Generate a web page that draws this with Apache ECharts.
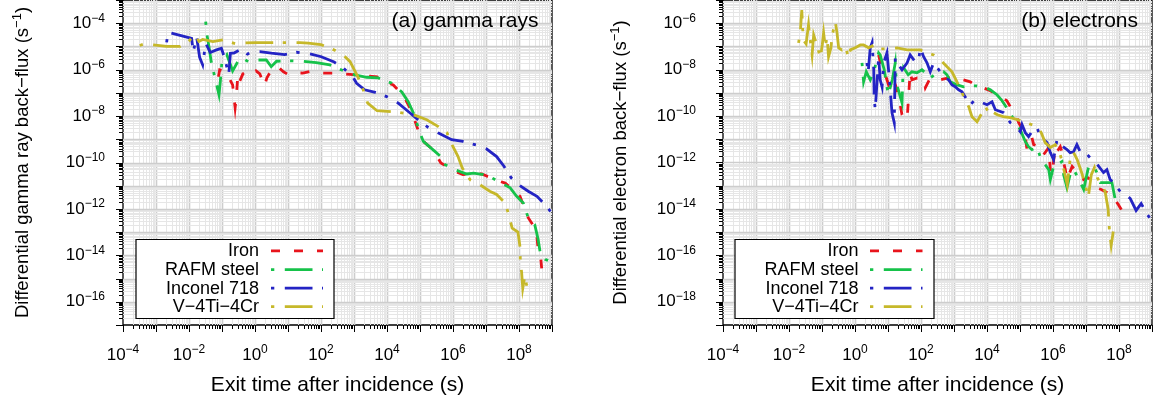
<!DOCTYPE html>
<html><head><meta charset="utf-8">
<script src="https://cdn.jsdelivr.net/npm/echarts@6/dist/echarts.min.js"></script>
<style>html,body{margin:0;padding:0;background:#fff}#c{width:1153px;height:403px}</style>
</head><body><div id="c"></div>
<script>
const FONT = '"Liberation Sans", Arial, Helvetica, sans-serif';
const seriesNames = ['Iron', 'RAFM steel', 'Inconel 718', 'V\u22124Ti\u22124Cr'];
const seriesColors = ['#e8141c', '#16c24a', '#2424c4', '#c6b82a'];
const seriesDash = [[9, 14], [3.3, 10.5, 27.7, 9.5], [3.3, 10.5, 27.7, 9.5], [3.3, 10.5, 27.7, 9.5]];
const panelTitles = ['(a) gamma rays', '(b) electrons'];
const yAxisTitles = ['Differential gamma ray back\u2212flux (s', 'Differential electron back\u2212flux (s'];
const xAxisTitle = 'Exit time after incidence (s)';
const xRange = [1e-4, 1e9];
const gammaYRange = [1e-17, 1e-3];
const electronYRange = [1e-19, 1e-5];
const xTickValues = [1e-4, 1e-2, 1e0, 1e2, 1e4, 1e6, 1e8];
const gammaYTickValues = [1e-16, 1e-14, 1e-12, 1e-10, 1e-8, 1e-6, 1e-4];
const electronYTickValues = [1e-18, 1e-16, 1e-14, 1e-12, 1e-10, 1e-8, 1e-6];

// ---- (a) gamma rays: [exit time (s), back-flux (1/s)]
const gammaIron = [[7.8e-2,4.9e-7],[8.5e-2,9.8e-7],[0.13,8.1e-7],[0.21,2.2e-7],[0.25,2.3e-8],[0.27,6.2e-8],[0.30,4.9e-7],[0.32,2.5e-7],[0.43,6.6e-7],[0.68,9.8e-7],[0.9,7.3e-7],[1.07,8.9e-7],[1.4,6.6e-7],[1.95,2e-7],[2.3,4.5e-7],[2.7,6.6e-7],[3.3,9.8e-7],[4.7,1.4e-6],[7.3,8.1e-7],[10.4,6e-7],[17,7.3e-7],[28,7.1e-7],[47,8.3e-7],[81,7.3e-7],[130,7.1e-7],[230,7.1e-7],[760,6.3e-7],[2.4e3,5.4e-7],[5e3,4.9e-7],[6.2e3,3.6e-7],[1.55e4,2.2e-7],[3.1e4,7.9e-8],[5e4,2.2e-8],[7.1e4,5.9e-9],[8.9e4,2.3e-9],[1.26e5,8.1e-10],[2.5e5,3.5e-10],[4.3e5,9.6e-11],[5.8e5,7.4e-11],[1.15e6,4.2e-11],[2e6,3e-11],[4.2e6,3.4e-11],[7.4e6,3.2e-11],[1.05e7,2.6e-11],[2.6e7,1.55e-11],[3.8e7,1.3e-11],[8.5e7,4.9e-12],[1.07e8,3.5e-12],[1.9e8,4.2e-13],[3e8,1.55e-13],[3.4e8,9.3e-14],[3.8e8,1.8e-14],[4.4e8,1.3e-14],[4.9e8,2.5e-15],[6.6e8,3.5e-15]];
const gammaRafm = [[3.2e-2,1.17e-4],[3.5e-2,3.2e-5],[4.1e-2,8.3e-6],[4.7e-2,2.2e-6],[8.1e-2,8.3e-8],[8.9e-2,3.1e-7],[0.1,2.4e-6],[0.14,4.4e-6],[0.21,8.9e-7],[0.30,2.2e-6],[0.43,3.1e-6],[0.62,2.2e-6],[1.07,2.6e-6],[2.2,2.6e-6],[3.1,1.35e-6],[4.5,2.3e-6],[8.1,2.4e-6],[13,2.4e-6],[28,2.3e-6],[72,2.0e-6],[186,1.6e-6],[480,8.9e-7],[1.07e3,6e-7],[2.4e3,4.7e-7],[5.4e3,4.4e-7],[1.4e4,2.6e-7],[2.8e4,1.1e-7],[4.4e4,4.2e-8],[6.3e4,1.35e-8],[8.3e4,4.3e-9],[9.6e4,2.2e-9],[1.26e5,8.1e-10],[2.5e5,3.5e-10],[4.1e5,1.9e-10],[5.8e5,8.1e-11],[1.15e6,4.9e-11],[2.6e6,3.2e-11],[4.2e6,3.5e-11],[8.3e6,3e-11],[1.5e7,2.2e-11],[2.3e7,1.55e-11],[5.4e7,8.1e-12],[8.5e7,3.5e-12],[1.35e8,1.8e-12],[1.9e8,4.2e-13],[3e8,2.1e-13],[3.8e8,4.9e-14],[4.4e8,1.3e-14],[6.2e8,6.8e-15],[7.6e8,6e-15]];
const gammaInconel = [[2.1e-3,1.5e-5],[2.3e-3,4.1e-5],[1.2e-2,2.2e-5],[1.35e-2,6e-6],[1.7e-2,2.6e-5],[2.1e-2,3.4e-6],[2.6e-2,1.6e-6],[3.2e-2,1.4e-5],[4.4e-2,5.5e-6],[6.8e-2,7.1e-6],[9.6e-2,8.3e-6],[0.12,3.2e-6],[0.16,6e-7],[0.18,5.1e-6],[0.23,5.2e-6],[0.38,7.6e-6],[0.59,4.7e-6],[0.93,6e-6],[1.4,6e-6],[3.1,5.1e-6],[7.9,4.4e-6],[18,5.6e-6],[46,4.8e-6],[102,3.6e-6],[240,2.2e-6],[480,1.15e-6],[960,4.4e-7],[1.2e3,2.6e-7],[2.1e3,1.35e-7],[4.4e3,1.05e-7],[9.8e3,6.9e-8],[2.2e4,3.6e-8],[5e4,1.35e-8],[1e5,5.9e-9],[1.8e5,3.2e-9],[3.5e5,1.9e-9],[9.1e5,9.6e-10],[2e6,8.1e-10],[5.2e6,5.6e-10],[1.05e7,3.8e-10],[2.1e7,1.8e-10],[3.5e7,6.9e-11],[5.8e7,2.2e-11],[1.07e8,1.0e-11],[1.9e8,5.8e-12],[3.5e8,3.5e-12],[6.9e8,1.3e-12],[1e9,6.3e-13]];
const gammaV4Ti4Cr = [[3.2e-4,1.1e-5],[4.6e-4,1.3e-5],[2.1e-3,1.0e-5],[5.4e-3,1.0e-5],[8.1e-3,1.35e-5],[1.07e-2,1.9e-5],[1.5e-2,3.2e-5],[2.0e-2,1.65e-5],[2.6e-2,2.0e-5],[5.3e-2,1.6e-5],[0.107,1.9e-5],[0.26,1.3e-5],[0.43,1.4e-5],[1.07,1.46e-5],[2.8,1.46e-5],[7.1,1.46e-5],[23,1.46e-5],[41,1.4e-5],[100,1.2e-5],[245,7.1e-6],[465,4.4e-6],[760,2.2e-6],[1.3e3,5e-7],[1.9e3,1.35e-7],[2.6e3,3.6e-8],[5e3,1.7e-8],[2e4,1.5e-8],[6.2e4,1.15e-8],[1.6e5,6.9e-9],[3.5e5,3.6e-9],[6.6e5,1.9e-9],[9.3e5,5.9e-10],[1.4e6,1.9e-10],[1.9e6,5.9e-11],[3.3e6,1.8e-11],[6.6e6,1.1e-11],[1.3e7,5.8e-12],[2.1e7,4.2e-12],[3.8e7,1.8e-12],[4.7e7,6.8e-13],[6.2e7,1.5e-13],[9.3e7,1e-13],[1.07e8,2.4e-14],[1.1e8,5.5e-15],[1.2e8,1.9e-15],[1.3e8,3.8e-16],[1.5e8,1.26e-15],[1.8e8,3.5e-16]];

// ---- (b) electrons
const electronIron = [[5.2,4.3e-8],[5.8,2.17e-8],[7.7,8.1e-9],[9.3,3.65e-9],[10.4,2.2e-9],[14.5,4.4e-9],[20.5,8.3e-10],[26.6,1.14e-10],[38,7.0e-11],[42,6.8e-10],[47,8.1e-9],[53,3.65e-9],[77,4.4e-9],[120,3.65e-9],[135,1.66e-9],[191,4.4e-9],[271,3.65e-9],[385,3.65e-9],[671,4.4e-9],[973,4.4e-9],[1.23e3,3.65e-9],[1.91e3,3.65e-9],[3.1e3,3.0e-9],[4.4e3,2.2e-9],[7.7e3,1.66e-9],[1.26e4,1.23e-9],[2.05e4,8.3e-10],[4.0e4,4.6e-10],[5.1e4,2.5e-10],[8.1e4,8.5e-11],[9.1e4,5.2e-11],[1.29e5,2.13e-11],[1.45e5,1.3e-11],[1.63e5,3.6e-12],[2.3e5,1.17e-11],[2.6e5,5.9e-12],[4.6e5,4.4e-12],[5.2e5,2.2e-12],[7.4e5,4.4e-12],[8.3e5,4.95e-13],[9.3e5,3.0e-13],[1.17e6,4.4e-12],[1.32e6,2.9e-12],[1.66e6,4.8e-12],[1.87e6,2.9e-12],[2.1e6,9.9e-13],[2.36e6,4.95e-13],[2.65e6,1.84e-13],[3.8e6,6.7e-13],[5.1e6,4.1e-13],[7.6e6,3.0e-13],[8.5e6,1.84e-13],[1.17e7,2.2e-13],[1.7e7,1.37e-13],[1.91e7,8.4e-14],[2.9e7,6.9e-14],[4.3e7,5.1e-14],[5.2e7,3.4e-14],[6.9e7,3.1e-14],[9.5e7,1.55e-14],[1.17e8,9.5e-15],[1.45e8,5.2e-15],[1.79e8,8.6e-15]];
const electronRafm = [[1.63,1.96e-8],[1.82,3.0e-9],[2.2,8.1e-9],[2.9,3.65e-9],[3.85,9.8e-9],[5.2,5.3e-8],[5.8,4.3e-8],[7.7,9.8e-9],[10.2,8.3e-10],[13.5,3.65e-9],[16.6,1.96e-8],[17.9,2.7e-9],[23.6,6.8e-10],[26.6,3.75e-10],[28,3.65e-9],[29.7,1.2e-8],[41,6.0e-9],[53,8.1e-9],[76,7.3e-9],[107,9.8e-9],[135,7.3e-9],[191,4.4e-9],[305,7.3e-9],[484,8.1e-9],[614,6.0e-9],[772,3.0e-9],[1.26e3,2.2e-9],[1.95e3,1.83e-9],[3.1e3,2.0e-9],[4.7e3,2.0e-9],[7.9e3,1.83e-9],[1.26e4,1.36e-9],[2.0e4,8.3e-10],[2.85e4,4.6e-10],[3.6e4,2.8e-10],[5.1e4,1.26e-10],[7.2e4,5.7e-11],[1.02e5,2.6e-11],[1.45e5,7.9e-12],[1.82e5,4.8e-12],[2.3e5,3.6e-12],[3.3e5,4.4e-12],[4.6e5,1.09e-12],[5.8e5,8.1e-13],[7.4e5,4.95e-13],[8.3e5,1.84e-13],[1.04e6,6.7e-13],[1.35e6,8.1e-13],[1.87e6,1.09e-12],[2.1e6,3.0e-13],[2.65e6,8.4e-14],[3.3e6,3.0e-13],[4.2e6,4.95e-13],[5.8e6,2.2e-13],[8.5e6,6.9e-14],[1.2e7,6.7e-13],[1.7e7,6.7e-13],[2.15e7,3.7e-13],[2.7e7,1.37e-13],[3.8e7,1.37e-13],[6.1e7,1.37e-13],[7.7e7,2.5e-14],[8.7e7,1.27e-14]];
const electronInconel = [[2.3,1.96e-8],[2.5,7.3e-9],[2.9,8.7e-8],[3.3,1.46e-7],[3.7,9.8e-9],[3.8,6.8e-10],[4.1,1.87e-10],[4.7,3.65e-9],[5.2,3.6e-8],[5.8,3.65e-9],[6.6,1.83e-9],[7.4,1.96e-8],[9.3,5.3e-8],[10.4,9.8e-9],[11.7,1.36e-9],[13.2,1.39e-10],[15.5,5.2e-11],[16.6,3.2e-8],[21,1.61e-8],[26.6,9.8e-9],[38,1.96e-8],[47,4.3e-8],[67,2.17e-8],[85,2.6e-8],[95,8.7e-8],[120,3.6e-8],[152,1.96e-8],[191,8.1e-9],[241,1.96e-8],[385,8.1e-9],[545,4.4e-9],[686,3.65e-9],[870,2.2e-9],[1.09e3,1.83e-9],[1.38e3,1.36e-9],[1.75e3,1.11e-9],[2.5e3,5.0e-10],[3.1e3,3.1e-10],[4.4e3,5.0e-10],[6.3e3,4.1e-10],[1.0e4,3.1e-10],[1.42e4,4.1e-10],[1.79e4,1.87e-10],[3.2e4,1.39e-10],[5.1e4,5.2e-11],[6.4e4,4.3e-11],[8.1e4,3.16e-11],[1.02e5,2.13e-11],[1.15e5,4.3e-11],[1.45e5,1.93e-11],[1.82e5,1.3e-11],[2.3e5,2.13e-11],[3.3e5,3.16e-11],[4.1e5,1.3e-11],[6.6e5,7.2e-12],[8.3e5,2.67e-12],[1.04e6,1.33e-12],[1.32e6,9.6e-12],[1.66e6,5.9e-12],[2.65e6,3.6e-12],[3.3e6,2.67e-12],[4.2e6,2.9e-12],[5.3e6,5.9e-12],[6.7e6,2.9e-12],[9.5e6,2.67e-12],[1.52e7,1.33e-12],[2.2e7,8.1e-13],[3.4e7,3.7e-13],[4.3e7,4.95e-13],[5.4e7,1.84e-13],[6.9e7,1.37e-13],[1.09e8,5.6e-14],[1.38e8,5.1e-14],[2.2e8,2.8e-14],[3.3e8,8.6e-15],[4.7e8,1.7e-14],[7.2e8,5.8e-15],[1.0e9,2.9e-15]];
const electronV4Ti4Cr = [[1.95e-2,1.42e-7],[2.2e-2,4.2e-7],[2.44e-2,3.7e-6],[2.7e-2,1.9e-7],[3.3e-2,1.29e-7],[3.9e-2,8.4e-7],[4.4e-2,1.9e-7],[5.0e-2,4.3e-8],[5.6e-2,3.1e-7],[6.3e-2,2.8e-7],[7.7e-2,7.1e-8],[8.9e-2,3.2e-8],[0.102,1.16e-7],[0.112,3.8e-7],[0.126,9.5e-8],[0.142,2.6e-7],[0.158,3.6e-8],[0.187,8.7e-8],[0.2,2.6e-7],[0.253,1.17e-6],[0.285,3.8e-7],[0.32,8.7e-8],[0.40,7.1e-8],[0.51,1.0e-7],[0.64,3.2e-8],[0.72,7.1e-8],[1.02,8.7e-8],[1.45,1.16e-7],[1.82,1.16e-7],[2.6,8.7e-8],[3.3,1.05e-7],[3.6,7.8e-8],[5.8,7.8e-8],[10.2,7.8e-8],[19,8.7e-8],[38,7.1e-8],[67,7.1e-8],[95,7.1e-8],[152,5.3e-8],[241,4.3e-8],[433,2.2e-8],[870,8.1e-9],[1.23e3,3.0e-9],[1.75e3,1.0e-9],[2.2e3,5.0e-10],[2.8e3,2.5e-10],[3.5e3,9.4e-11],[5.0e3,5.7e-11],[6.3e3,1.03e-10],[8.9e3,2.5e-10],[1.26e4,1.14e-10],[1.45e4,1.54e-10],[2.05e4,1.14e-10],[3.1e4,9.4e-11],[5.1e4,8.5e-11],[8.3e4,7.0e-11],[1.66e5,5.0e-11],[3.3e5,3.5e-11],[4.4e5,1.93e-11],[5.8e5,7.2e-12],[8.3e5,4.4e-12],[1.17e6,5.9e-12],[1.66e6,2.2e-12],[2.2e6,4.1e-13],[2.7e6,1.12e-13],[3.3e6,1.33e-12],[4.1e6,2.9e-12],[5.4e6,1.33e-12],[7.2e6,4.1e-13],[9.5e6,1.12e-13],[1.17e7,3.1e-14],[1.45e7,3.0e-13],[1.8e7,6.0e-13],[2.2e7,2.2e-13],[2.9e7,1.12e-13],[3.8e7,5.6e-14],[4.7e7,9.5e-15],[5.1e7,1.31e-15],[5.8e7,2.7e-16],[6.7e7,1.07e-15]];

const gammaSeries = [gammaIron, gammaRafm, gammaInconel, gammaV4Ti4Cr];
const electronSeries = [electronIron, electronRafm, electronInconel, electronV4Ti4Cr];

// ---------- layout / styling ----------
const GRID_MAJOR = '#cdcdcd', GRID_MINOR = '#e6e6e6';
const grids = [
  { left: 123, top: 0, width: 429, height: 325 },
  { left: 723, top: 0, width: 429, height: 325 }
];
function isDecade(v) { const l = Math.log10(v); return Math.abs(l - Math.round(l)) < 1e-6; }
function logGridValues(range) {
  const lo = Math.round(Math.log10(range[0])), hi = Math.round(Math.log10(range[1]));
  const out = [];
  for (let e = lo; e < hi; e++) for (let k = 1; k <= 9; k++) out.push(parseFloat(k + 'e' + e));
  out.push(parseFloat('1e' + hi));
  return out;
}
function sameVal(a, b) { return Math.abs(Math.log10(a) - Math.log10(b)) < 1e-6; }
function supLabel(v) {
  const e = Math.round(Math.log10(v));
  return '{b|10}{sup|' + (e < 0 ? '\u2212' : '') + Math.abs(e) + '}';
}
const labelRich = {
  b: { fontSize: 17, lineHeight: 22, fontFamily: FONT, color: '#000' },
  sup: { fontSize: 12, lineHeight: 12, verticalAlign: 'top', fontFamily: FONT, color: '#000' }
};

function xGridSeries(gi, yr) {
  return {
    type: 'custom', xAxisIndex: gi, yAxisIndex: gi, silent: true, z: 1, clip: false, animation: false,
    data: logGridValues(xRange).map(v => [v, yr[0]]),
    renderItem: function (params, api) {
      const v = api.value(0);
      const b = api.coord([v, yr[0]]), t = api.coord([v, yr[1]]);
      const major = isDecade(v);
      const x = Math.round(b[0]) + 0.5;
      const ch = [];
      if (!sameVal(v, xRange[0]) && !sameVal(v, xRange[1])) {
        ch.push({ type: 'line', shape: { x1: x, y1: b[1], x2: x, y2: t[1] }, style: { stroke: major ? GRID_MAJOR : GRID_MINOR, lineWidth: major ? 1.6 : 1 } });
      }
      ch.push({ type: 'line', shape: { x1: x, y1: b[1], x2: x, y2: b[1] + (major ? 7 : 4) }, style: { stroke: '#000', lineWidth: 1 } });
      return { type: 'group', children: ch };
    }
  };
}
function yGridSeries(gi, yr) {
  return {
    type: 'custom', xAxisIndex: gi, yAxisIndex: gi, silent: true, z: 1, clip: false, animation: false,
    data: logGridValues(yr).map(v => [xRange[0], v]),
    renderItem: function (params, api) {
      const v = api.value(1);
      const l = api.coord([xRange[0], v]), r = api.coord([xRange[1], v]);
      const major = isDecade(v);
      const y = Math.round(l[1]) + 0.5;
      const ch = [];
      if (!sameVal(v, yr[0]) && !sameVal(v, yr[1])) {
        ch.push({ type: 'line', shape: { x1: l[0], y1: y, x2: r[0], y2: y }, style: { stroke: major ? GRID_MAJOR : GRID_MINOR, lineWidth: major ? 1.6 : 1 } });
      }
      ch.push({ type: 'line', shape: { x1: l[0], y1: y, x2: l[0] - (major ? 7 : 4), y2: y }, style: { stroke: '#000', lineWidth: 1 } });
      return { type: 'group', children: ch };
    }
  };
}
function dataSeries(sets, gi) {
  return sets.map((d, i) => ({
    type: 'line', name: seriesNames[i], xAxisIndex: gi, yAxisIndex: gi, data: d,
    showSymbol: false, symbol: 'none', z: 3 + i, clip: true, animation: false, silent: true,
    lineStyle: { color: seriesColors[i], width: 2.8, type: seriesDash[i], cap: 'butt', join: 'miter' }
  }));
}
function xAxisCfg(gi) {
  return {
    type: 'log', logBase: 10, gridIndex: gi, min: xRange[0], max: xRange[1],
    axisLine: { show: false }, axisTick: { show: false }, splitLine: { show: false },
    axisLabel: { customValues: xTickValues, formatter: supLabel, rich: labelRich, margin: 19, color: '#000' },
    name: xAxisTitle, nameLocation: 'middle', nameGap: 50,
    nameTextStyle: { fontSize: 21, fontFamily: FONT, color: '#000' }
  };
}
function yAxisCfg(gi, yr, ticks, margin, gap) {
  return {
    type: 'log', logBase: 10, gridIndex: gi, min: yr[0], max: yr[1],
    axisLine: { show: false }, axisTick: { show: false }, splitLine: { show: false },
    axisLabel: { customValues: ticks, formatter: supLabel, rich: labelRich, margin: margin, color: '#000' },
    name: '{t|' + yAxisTitles[gi] + '}{s|\u22121}{t|)}', nameLocation: 'middle', nameGap: gap, nameRotate: 90,
    nameTextStyle: {
      color: '#000', fontFamily: FONT, fontSize: 18.5,
      rich: {
        t: { fontSize: 18.5, lineHeight: 24, fontFamily: FONT, color: '#000' },
        s: { fontSize: 13, lineHeight: 13, verticalAlign: 'top', fontFamily: FONT, color: '#000' }
      }
    }
  };
}
function legendGraphic(box, textRight, lx1, lx2, rows) {
  const els = [{
    type: 'rect', shape: { x: box[0], y: box[1], width: box[2], height: box[3] },
    style: { fill: '#fff', stroke: '#000', lineWidth: 1.2 }, z: 50
  }];
  seriesNames.forEach((n, i) => {
    els.push({ type: 'text', x: textRight, y: rows[i] + 0.5, z: 51,
      style: { text: n, fill: '#000', font: '18px ' + FONT, textAlign: 'right', textVerticalAlign: 'middle' } });
    els.push({ type: 'line', z: 51, shape: { x1: lx1, y1: rows[i], x2: lx2, y2: rows[i] },
      style: { stroke: seriesColors[i], lineWidth: 2.8, lineDash: seriesDash[i], lineCap: 'butt' } });
  });
  return els;
}
const legendRows = [250.8, 269.6, 288.2, 306.7];

const option = {
  backgroundColor: '#fff',
  animation: false,
  textStyle: { fontFamily: FONT },
  grid: grids.map(g => Object.assign({ show: true, borderColor: '#000', borderWidth: 1.3, backgroundColor: '#fff', containLabel: false }, g)),
  xAxis: [xAxisCfg(0), xAxisCfg(1)],
  yAxis: [yAxisCfg(0, gammaYRange, gammaYTickValues, 18, 88), yAxisCfg(1, electronYRange, electronYTickValues, 27, 90)],
  series: [].concat(
    [xGridSeries(0, gammaYRange), yGridSeries(0, gammaYRange), xGridSeries(1, electronYRange), yGridSeries(1, electronYRange)],
    dataSeries(gammaSeries, 0), dataSeries(electronSeries, 1)
  ),
  graphic: [].concat(
    [{ type: 'text', x: 538.5, y: 21.5, z: 40, style: { text: panelTitles[0], fill: '#000', font: '21px ' + FONT, textAlign: 'right', textVerticalAlign: 'middle' } },
     { type: 'text', x: 1138, y: 21, z: 40, style: { text: panelTitles[1], fill: '#000', font: '21px ' + FONT, textAlign: 'right', textVerticalAlign: 'middle' } }],
    legendGraphic([136, 239.5, 198, 79], 259, 271, 323, legendRows),
    legendGraphic([735, 239.5, 199, 79], 858.5, 870, 922.5, legendRows)
  )
};
const chart = echarts.init(document.getElementById('c'), null, { renderer: 'canvas' });
chart.setOption(option);
</script></body></html>
